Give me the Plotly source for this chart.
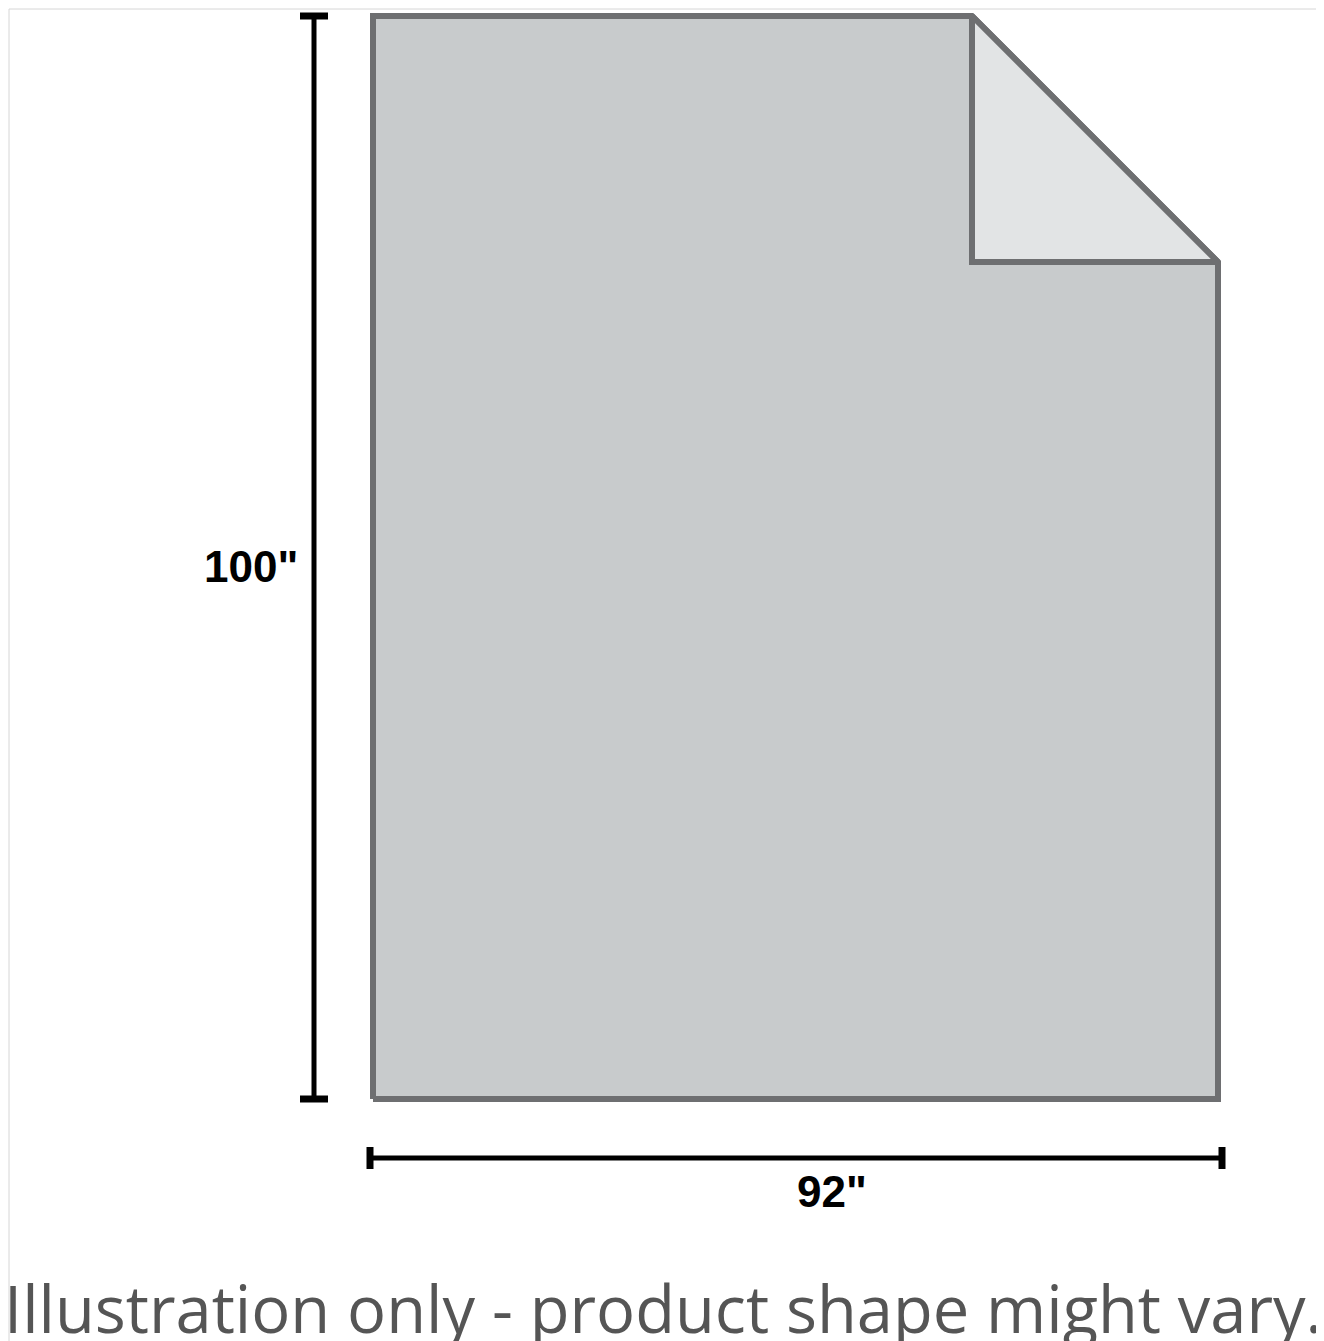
import plotly.graph_objects as go

# ---- data ----
width_in = 92
height_in = 100
dim_labels = ['100"', '92"']
caption = "Illustration only - product shape might vary."

# ---- layout constants (page pixels) ----
W, H = 1324, 1341
BODY = 8  # default page margin around the plot div
PX_L, PX_R = 373, 1218
PX_T, PX_B = 16, 1099
sx = (PX_R - PX_L) / width_in
sy = (PX_B - PX_T) / height_in


def ux(px):
    return (px - PX_L) / sx


def uy(py):
    return (PX_B - py) / sy


fold_x = ux(972)
fold_y = uy(262)

OUTLINE = "#6e6f71"
FILL = "#c8cbcc"
FOLD_FILL = "#e2e4e5"

fig = go.Figure()

# blanket body
fig.add_trace(go.Scatter(
    x=[0, 0, fold_x, width_in, width_in, 0],
    y=[0, height_in, height_in, fold_y, 0, 0],
    mode="lines", fill="toself", fillcolor=FILL,
    line=dict(color=OUTLINE, width=6), hoverinfo="skip", showlegend=False))

# folded corner
fig.add_trace(go.Scatter(
    x=[fold_x, fold_x, width_in, fold_x],
    y=[height_in, fold_y, fold_y, height_in],
    mode="lines", fill="toself", fillcolor=FOLD_FILL,
    line=dict(color=OUTLINE, width=6), hoverinfo="skip", showlegend=False))

# vertical dimension line
vx = ux(314)
cap_hx = 14 / sx
fig.add_trace(go.Scatter(x=[vx, vx], y=[0, height_in], mode="lines",
                         line=dict(color="black", width=5), hoverinfo="skip", showlegend=False))
for yy in (0, height_in):
    fig.add_trace(go.Scatter(x=[vx - cap_hx, vx + cap_hx], y=[yy, yy], mode="lines",
                             line=dict(color="black", width=7), hoverinfo="skip", showlegend=False))

# horizontal dimension line
hy = uy(1158)
cap_hy = 11 / sy
hx0, hx1 = ux(370), ux(1222)
fig.add_trace(go.Scatter(x=[hx0, hx1], y=[hy, hy], mode="lines",
                         line=dict(color="black", width=5), hoverinfo="skip", showlegend=False))
for xx in (hx0, hx1):
    fig.add_trace(go.Scatter(x=[xx, xx], y=[hy - cap_hy, hy + cap_hy], mode="lines",
                             line=dict(color="black", width=7), hoverinfo="skip", showlegend=False))

dim_font = dict(family="Liberation Sans, Arial, sans-serif", size=44, color="black", weight="bold")
fig.add_annotation(x=ux(251), y=uy(566), text=dim_labels[0], showarrow=False,
                   xanchor="center", yanchor="middle", font=dim_font)
fig.add_annotation(x=ux(832), y=uy(1191), text=dim_labels[1], showarrow=False,
                   xanchor="center", yanchor="middle", font=dim_font)

fig.add_annotation(xref="paper", x=0, xshift=-6, y=uy(1308), text=caption, showarrow=False,
                   xanchor="left", yanchor="middle",
                   font=dict(family="Open Sans, Noto Sans, sans-serif", size=65, color="#555555"))

# thin image border
fig.add_shape(type="rect", x0=ux(9), x1=ux(1322), y0=uy(9), y1=uy(1345),
              line=dict(color="#d6d6d6", width=1), layer="below")

fig.update_layout(
    width=W - BODY, height=H - BODY,
    margin=dict(l=0, r=0, t=0, b=0),
    paper_bgcolor="white", plot_bgcolor="white",
    xaxis=dict(range=[ux(BODY), ux(W)], visible=False, fixedrange=True),
    yaxis=dict(range=[uy(H), uy(BODY)], visible=False, fixedrange=True),
    showlegend=False,
)

fig.write_html("out.html")
